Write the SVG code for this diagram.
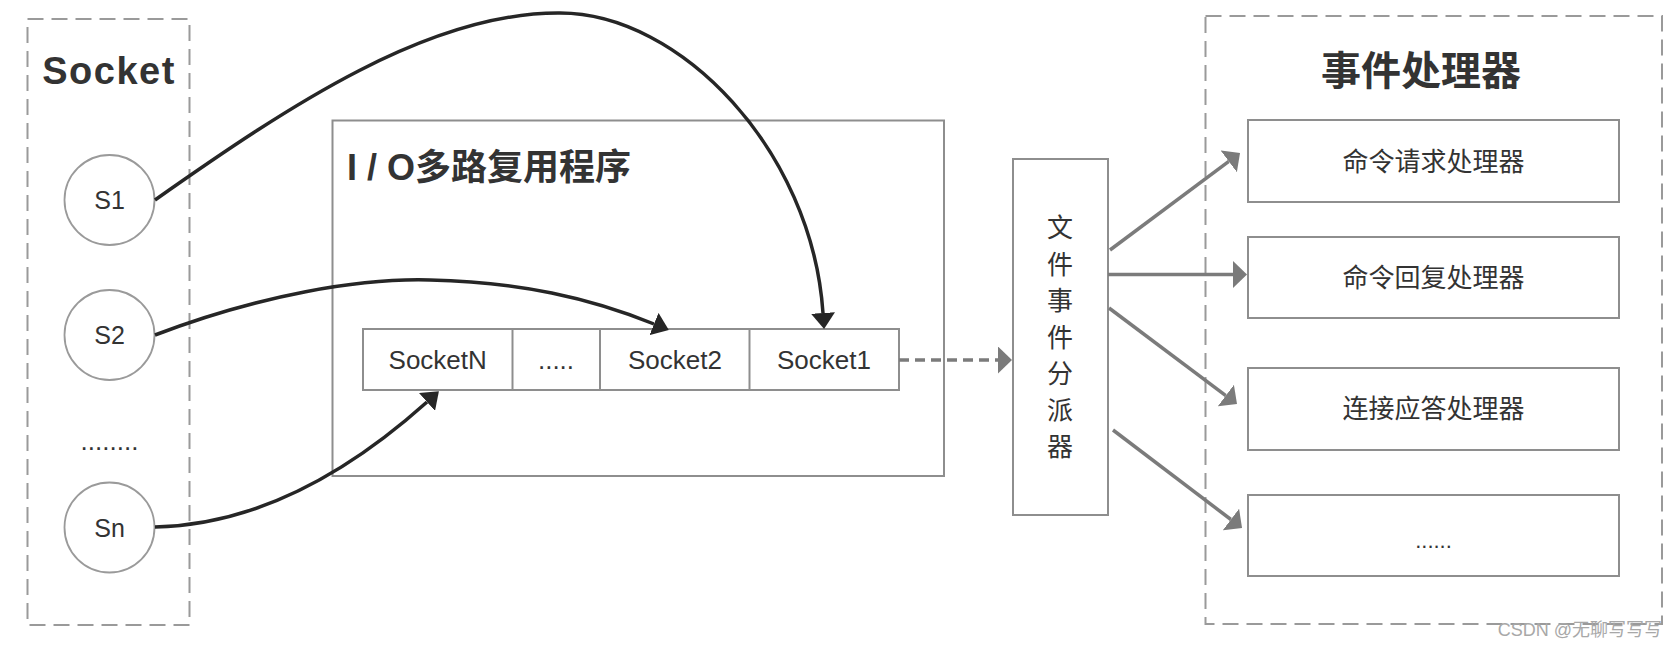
<svg xmlns="http://www.w3.org/2000/svg" width="1677" height="649" viewBox="0 0 1677 649">
  <style>
    .dash{fill:none;stroke:#9a9a9a;stroke-width:2;stroke-dasharray:16 8}
    .box{fill:#fff;stroke:#8e8e8e;stroke-width:2}
    .circ{fill:#fff;stroke:#9a9a9a;stroke-width:1.8}
    .lat{font-family:"Liberation Sans",Arial,sans-serif;fill:#333}
    .cjk{font-family:"Liberation Sans","Noto Sans CJK SC",sans-serif;fill:#333}
    .blk{fill:none;stroke:#262626;stroke-width:3.5}
    .gry{fill:none;stroke:#7b7b7b;stroke-width:3.5}
  </style>
  <defs>
    <marker id="ab" markerUnits="userSpaceOnUse" markerWidth="16" markerHeight="24" refX="0" refY="12" orient="auto" viewBox="0 0 16 24">
      <path d="M0,0 L16,12 L0,24 z" fill="#262626"/>
    </marker>
    <marker id="ag" markerUnits="userSpaceOnUse" markerWidth="14" markerHeight="27" refX="0" refY="13.5" orient="auto" viewBox="0 0 14 27">
      <path d="M0,0 L14,13.5 L0,27 z" fill="#7b7b7b"/>
    </marker>
  </defs>
  <rect width="1677" height="649" fill="#fff"/>

  <g id="socket-group">
    <rect class="dash" x="27.5" y="19" width="162" height="606"/>
    <text class="lat" x="109" y="84" font-size="38" font-weight="bold" text-anchor="middle" letter-spacing="1.5">Socket</text>
  </g>
  <g id="s1">
    <circle class="circ" cx="109.5" cy="200" r="45"/>
    <text class="lat" x="109.5" y="209" font-size="25" text-anchor="middle">S1</text>
  </g>
  <g id="s2">
    <circle class="circ" cx="109.5" cy="335" r="45"/>
    <text class="lat" x="109.5" y="344" font-size="25" text-anchor="middle">S2</text>
  </g>
  <g id="sdots">
    <text class="lat" x="109.5" y="450" font-size="26" text-anchor="middle">........</text>
  </g>
  <g id="sn">
    <circle class="circ" cx="109.5" cy="527.5" r="45"/>
    <text class="lat" x="109.5" y="536.5" font-size="25" text-anchor="middle">Sn</text>
  </g>

  <g id="io-multiplexer">
    <rect class="box" x="332.5" y="120.5" width="611.5" height="355.5"/>
    <text class="cjk" x="347" y="167" font-size="36" font-weight="bold" dominant-baseline="central">I / O多路复用程序</text>
  </g>
  <g id="socket-queue">
    <rect class="box" x="363" y="329" width="536" height="61"/>
    <line x1="512.5" y1="329" x2="512.5" y2="390" stroke="#8e8e8e" stroke-width="2"/>
    <line x1="600" y1="329" x2="600" y2="390" stroke="#8e8e8e" stroke-width="2"/>
    <line x1="749.5" y1="329" x2="749.5" y2="390" stroke="#8e8e8e" stroke-width="2"/>
    <text class="lat" x="437.7" y="368.5" font-size="26" text-anchor="middle">SocketN</text>
    <text class="lat" x="556" y="368.5" font-size="26" text-anchor="middle">.....</text>
    <text class="lat" x="675" y="368.5" font-size="26" text-anchor="middle">Socket2</text>
    <text class="lat" x="824" y="368.5" font-size="26" text-anchor="middle">Socket1</text>
  </g>

  <g id="dispatcher">
    <rect class="box" x="1013" y="159" width="95" height="356"/>
    <g class="cjk" font-size="26" text-anchor="middle" dominant-baseline="central">
      <text x="1060" y="228">文</text>
      <text x="1060" y="264.5">件</text>
      <text x="1060" y="301">事</text>
      <text x="1060" y="337.5">件</text>
      <text x="1060" y="374">分</text>
      <text x="1060" y="410.5">派</text>
      <text x="1060" y="447">器</text>
    </g>
  </g>

  <g id="handlers">
    <rect class="dash" x="1205.5" y="16" width="456.5" height="608"/>
    <text class="cjk" x="1421" y="70.5" font-size="40" font-weight="bold" text-anchor="middle" dominant-baseline="central">事件处理器</text>
  </g>
  <g id="h-request">
    <rect class="box" x="1248" y="120" width="371" height="82"/>
    <text class="cjk" x="1433.5" y="162" font-size="26" text-anchor="middle" dominant-baseline="central">命令请求处理器</text>
  </g>
  <g id="h-reply">
    <rect class="box" x="1248" y="237" width="371" height="81"/>
    <text class="cjk" x="1433.5" y="277.5" font-size="26" text-anchor="middle" dominant-baseline="central">命令回复处理器</text>
  </g>
  <g id="h-accept">
    <rect class="box" x="1248" y="368" width="371" height="82"/>
    <text class="cjk" x="1433.5" y="409" font-size="26" text-anchor="middle" dominant-baseline="central">连接应答处理器</text>
  </g>
  <g id="h-more">
    <rect class="box" x="1248" y="495" width="371" height="81"/>
    <text class="lat" x="1433.5" y="548" font-size="22" text-anchor="middle">......</text>
  </g>

  <g id="connectors">
    <path class="blk" d="M155,200 C290,105 430,12 560,13 C680,13 812,150 823,313" marker-end="url(#ab)"/>
    <path class="blk" d="M155,335 C260,295 360,278 430,280 C520,282 590,298 654,324" marker-end="url(#ab)"/>
    <path class="blk" d="M155,527 C250,525 340,480 427,402" marker-end="url(#ab)"/>
    <line class="gry" x1="899" y1="360" x2="998" y2="360" stroke-dasharray="10 6" marker-end="url(#ag)"/>
    <line class="gry" x1="1110" y1="250" x2="1228.8" y2="161.4" marker-end="url(#ag)"/>
    <line class="gry" x1="1108" y1="274.5" x2="1233" y2="274.5" marker-end="url(#ag)"/>
    <line class="gry" x1="1109" y1="308" x2="1225.8" y2="395.6" marker-end="url(#ag)"/>
    <line class="gry" x1="1113" y1="430" x2="1230.9" y2="519.5" marker-end="url(#ag)"/>
  </g>

  <text class="cjk" x="1662" y="636" font-size="18" text-anchor="end" fill="#a8a8a8" style="fill:#a8a8a8">CSDN @无聊写写写</text>
</svg>
